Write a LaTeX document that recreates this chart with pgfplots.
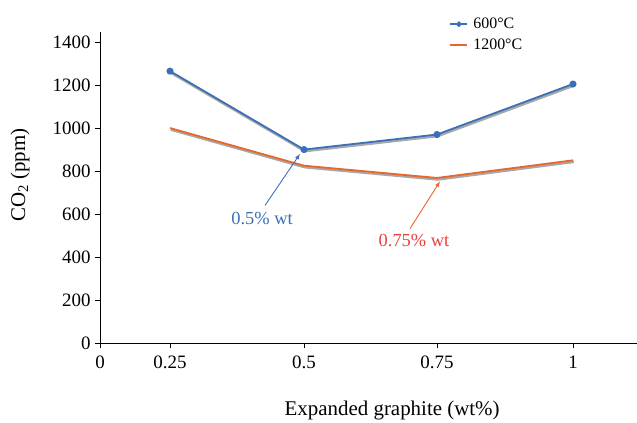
\documentclass[border=0pt]{standalone}
\usepackage{pgfplots}
\pgfplotsset{compat=1.18}
\usepackage{fontspec}
\setmainfont{Liberation Serif}
\definecolor{cblue}{HTML}{3A70B8}
\definecolor{corange}{HTML}{E8652C}
\definecolor{cred}{HTML}{E8413C}
\definecolor{cshadow}{HTML}{A8A8A8}
\begin{document}
\begin{tikzpicture}
\useasboundingbox (0,0) rectangle (637bp,423bp);
\begin{axis}[
  at={(100bp,80bp)}, anchor=south west,
  scale only axis, width=537bp, height=311bp,
  xmin=0, xmax=537, ymin=0, ymax=1447,
  axis lines*=left,
  axis line style={line width=0.9pt, black},
  xtick={0,70,204,337,473},
  xticklabels={0,0.25,0.5,0.75,1},
  ytick={0,200,400,600,800,1000,1200,1400},
  tick align=outside, major tick length=5bp,
  tick style={line width=0.8pt, black},
  /pgf/number format/assume math mode=true,
  /pgf/number format/1000 sep={},
  tick label style={font=\fontsize{19}{21}\selectfont},
  x tick label style={yshift=-4bp},
  y tick label style={xshift=-1bp},
  xlabel={Expanded graphite (wt\%)},
  ylabel={CO\textsubscript{2} (ppm)},
  label style={font=\fontsize{21}{23}\selectfont},
  xlabel style={at={(axis description cs:0.544,-0.218)}, anchor=center},
  ylabel style={at={(axis description cs:-0.149,0.54)}, anchor=center, rotate=0},
  legend style={at={(axis description cs:0.645,1.058)}, anchor=north west, draw=none, fill=none,
    font=\fontsize{16}{18}\selectfont, row sep=5bp, nodes={inner xsep=5bp}},
  legend cell align=left,
  clip=false,
]
\addlegendimage{cblue, line width=1.8pt, mark=*, mark size=1.8pt}
\addlegendentry{600°C}
\addlegendimage{corange, line width=1.8pt}
\addlegendentry{1200°C}
% shadows
\addplot[cshadow, line width=2.4pt, shift={(0.8pt,-1.6pt)}, forget plot] coordinates {(70,1265) (204,900) (337,970) (473,1205)};
\addplot[cshadow, line width=2.4pt, shift={(0.8pt,-1.6pt)}, forget plot] coordinates {(70,1000) (204,825) (337,768) (473,850)};
% series
\addplot[cblue, line width=1.8pt, mark=*, mark size=2.6pt, mark options={fill=cblue, draw=cblue}, forget plot] coordinates {(70,1265) (204,900) (337,970) (473,1205)};
\addplot[corange, line width=1.8pt, mark=none, forget plot] coordinates {(70,1000) (204,825) (337,768) (473,850)};
% annotations
\draw[cblue, line width=0.9pt, -latex] (axis cs:165,640) -- (axis cs:200,880);
\node[cblue, font=\fontsize{18.5}{20}\selectfont] at (axis cs:162,578) {0.5\% wt};
\draw[corange, line width=0.9pt, -latex] (axis cs:310,532) -- (axis cs:340,752);
\node[cred, font=\fontsize{18.5}{20}\selectfont] at (axis cs:314,478) {0.75\% wt};
\end{axis}
\end{tikzpicture}
\end{document}
